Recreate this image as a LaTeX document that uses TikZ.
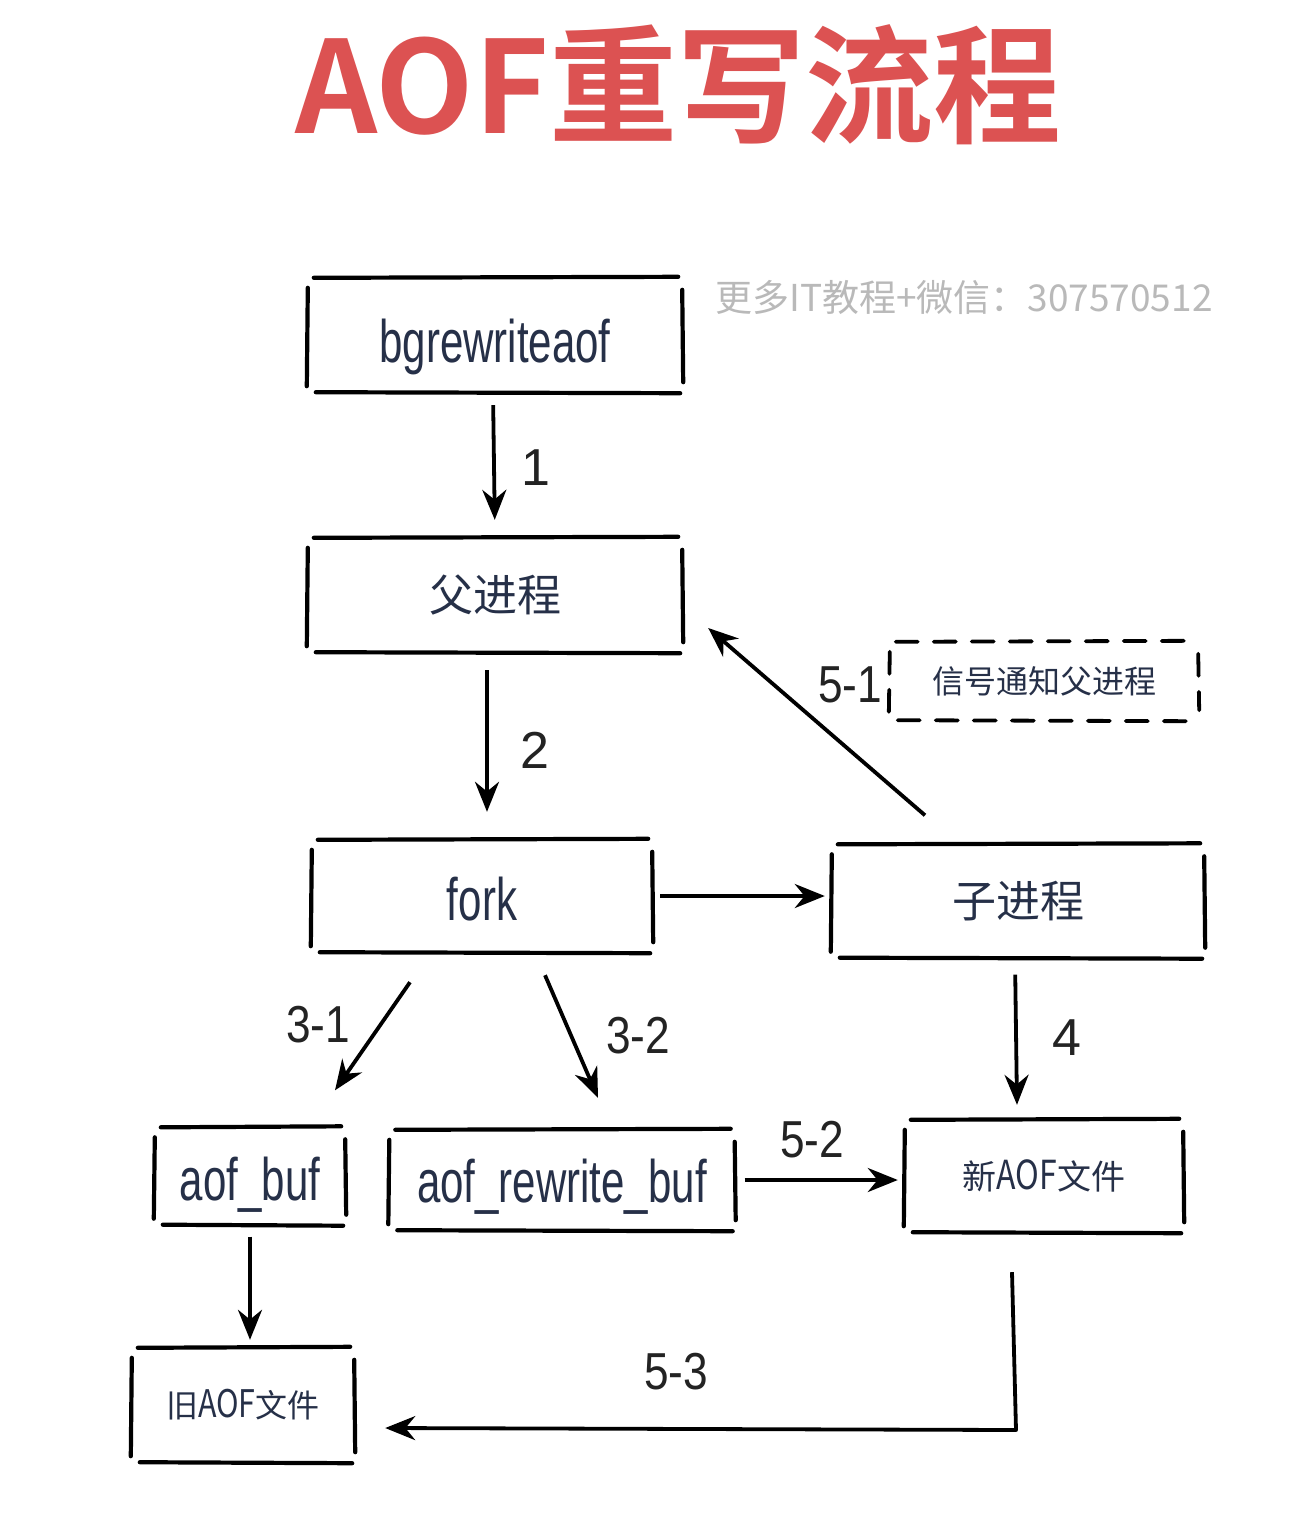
\documentclass[tikz,border=0pt]{standalone}
\usepackage{fontspec}
\usepackage{graphicx}
\usetikzlibrary{arrows.meta,calc}
\setmainfont{Liberation Sans}
\newfontfamily\cjk{Noto Sans CJK SC}
\newfontfamily\titlefont{Noto Sans CJK SC}[BoldFont={* Bold}]
\definecolor{titlered}{RGB}{220,82,82}
\definecolor{txtc}{RGB}{38,48,72}
\definecolor{wmgray}{RGB}{185,185,185}
\definecolor{lblc}{RGB}{35,35,35}
\newcommand\skbox[2][]{%
 \draw[skline,#1] ([xshift=6pt]#2.north west) -- ([xshift=-4pt,yshift=1pt]#2.north east);
 \draw[skline,#1] ([xshift=8pt]#2.south west) -- ([xshift=-2pt,yshift=-1pt]#2.south east);
 \draw[skline,#1] ([yshift=-10pt]#2.north west) -- ([xshift=-1pt,yshift=6pt]#2.south west);
 \draw[skline,#1] ([yshift=-12pt]#2.north east) -- ([xshift=1pt,yshift=10pt]#2.south east);
}
\newcommand\cond[2][0pt]{\raisebox{#1}[0pt][0pt]{\scalebox{0.7}[1]{#2}}}
\begin{document}
\begin{tikzpicture}[x=1pt,y=-1pt,
  skline/.style={line width=4.2pt,line cap=round,black},
  boxn/.style={inner sep=0pt,text=txtc},
  arr/.style={line width=3.8pt,-{Stealth[length=30pt,width=24pt]}},
  lbl/.style={inner sep=0pt,text=lblc,font=\fontsize{52}{52}\selectfont},
  latinbox/.style={font=\fontsize{60}{60}\selectfont},
  cjkbox/.style={font=\cjk\fontsize{44}{44}\selectfont}]
\useasboundingbox (0,0) rectangle (1308,1516);
\fill[white] (0,0) rectangle (1308,1516);
% title and watermark
\node[text=titlered,inner sep=0pt] (title) at (678,85) {\titlefont\bfseries\fontsize{128}{128}\selectfont AOF重写流程};
\node[text=wmgray,inner sep=0pt,anchor=west] (wm) at (715,297) {\cjk\fontsize{37}{37}\selectfont 更多IT教程+微信：307570512};
% boxes
\node[boxn,latinbox,minimum width=374pt,minimum height=114pt] (bg) at (495,335) {\cond[-27pt]{bgrewriteaof}};
\node[boxn,cjkbox,minimum width=374pt,minimum height=114pt] (par) at (495,595) {父进程};
\node[boxn,latinbox,minimum width=340pt,minimum height=112pt] (fork) at (482,896) {\cond[-24pt]{fork}};
\node[boxn,cjkbox,minimum width=372pt,minimum height=113pt] (child) at (1018,901) {子进程};
\node[boxn,font=\cjk\fontsize{32}{32}\selectfont,minimum width=308pt,minimum height=78pt] (sig) at (1044,681) {信号通知父进程};
\node[boxn,latinbox,minimum width=190pt,minimum height=97pt] (abuf) at (250,1176) {\cond[-24pt]{aof\_buf}};
\node[boxn,latinbox,minimum width=345pt,minimum height=100pt] (arbuf) at (562,1180) {\cond[-22pt]{aof\_rewrite\_buf}};
\node[boxn,minimum width=278pt,minimum height=112pt] (newf) at (1044,1176) {\cjk\fontsize{34}{34}\selectfont 新\scalebox{0.8}[1]{\fontsize{40}{40}\selectfont AOF}文件};
\node[boxn,minimum width=222pt,minimum height=114pt] (oldf) at (243,1405) {\cjk\fontsize{32}{32}\selectfont 旧\scalebox{0.8}[1]{\fontsize{38}{38}\selectfont AOF}文件};
\skbox{bg}
\skbox{par}
\skbox{fork}
\skbox{child}
\skbox[line width=3.8pt,dash pattern=on 22pt off 16pt]{sig}
\skbox{abuf}
\skbox{arbuf}
\skbox{newf}
\skbox{oldf}
% connectors
\draw[arr,shorten <=13pt,shorten >=18pt] ([xshift=-2pt]bg.south) -- (par.north);
\draw[arr,shorten <=18pt,shorten >=28pt] ([xshift=-8pt]par.south) -- ([xshift=5pt]fork.north);
\draw[arr,shorten <=8pt,shorten >=7pt] (fork.east) -- (fork.east -| child.west);
\draw[arr] ([xshift=-93pt,yshift=29pt]child.north) -- ([xshift=26pt,yshift=-33pt]par.east);
\draw[arr] ([xshift=-72pt,yshift=-30pt]fork.south) -- ([xshift=85pt,yshift=37pt]abuf.north);
\draw[arr] ([xshift=63pt,yshift=-23pt]fork.south) -- ([xshift=36pt,yshift=32pt]arbuf.north);
\draw[arr,shorten <=17pt] ([xshift=-3pt]child.south) -- ([xshift=-27pt,yshift=15pt]newf.north);
\draw[arr,shorten <=10pt,shorten >=7pt] (arbuf.east) -- (arbuf.east -| newf.west);
\draw[arr,shorten <=12pt,shorten >=8pt] (abuf.south) -- (abuf.south |- oldf.north);
\coordinate (c53) at (1016,1430);
\draw[arr,line join=round] ([xshift=-32pt,yshift=-40pt]newf.south) -- (c53) -- ([xshift=31pt,yshift=-23pt]oldf.east);
% labels
\node[lbl] (l1) at (536,468) {1};
\node[lbl] (l2) at (535,750) {2};
\node[lbl] (l51) at (850,685) {\scalebox{0.85}[1]{5-1}};
\node[lbl] (l31) at (318,1025) {\scalebox{0.85}[1]{3-1}};
\node[lbl] (l32) at (638,1036) {\scalebox{0.85}[1]{3-2}};
\node[lbl] (l4) at (1067,1038) {4};
\node[lbl] (l52) at (812,1140) {\scalebox{0.85}[1]{5-2}};
\node[lbl] (l53) at (676,1372) {\scalebox{0.85}[1]{5-3}};
\end{tikzpicture}
\end{document}
